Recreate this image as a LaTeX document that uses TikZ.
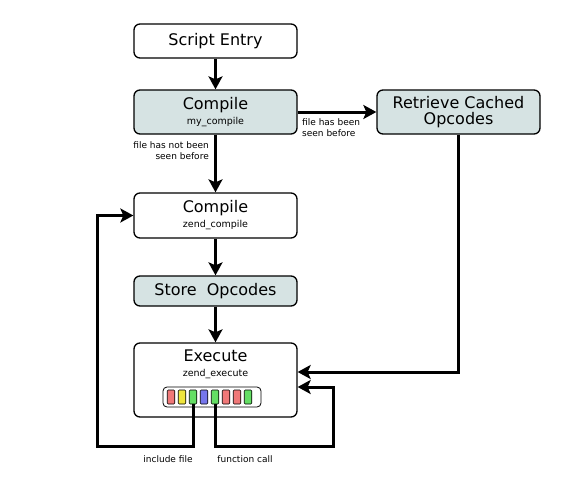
\documentclass[tikz,border=0pt]{standalone}
\usepackage{fontspec}
\setmainfont{DejaVu Sans}
\usetikzlibrary{arrows.meta}
\definecolor{boxfill}{RGB}{214,227,227}
\definecolor{cellred}{RGB}{240,120,120}
\definecolor{cellyellow}{RGB}{238,228,60}
\definecolor{cellgreen}{RGB}{100,222,100}
\definecolor{cellblue}{RGB}{118,118,236}
\newcommand{\subname}[1]{\\[-3pt]{\fontsize{9.5}{11}\selectfont #1}}
\tikzset{
	stagebox/.style={draw, line width=1.3pt, rounded corners=6pt, minimum width=163pt, align=center, inner sep=0pt, font=\fontsize{16}{18}\selectfont},
	cachedbox/.style={stagebox, fill=boxfill},
	flow/.style={line width=3pt, -{Stealth[length=13pt,width=14pt,inset=3pt]}},
	note/.style={font=\fontsize{9}{11}\selectfont, inner sep=0pt},
	opcell/.style={draw, line width=0.6pt, rounded corners=1pt, minimum width=7.5pt, minimum height=14pt, inner sep=0pt}
}

\begin{document}
\begin{tikzpicture}[x=1pt,y=-1pt]
	\useasboundingbox (0,0) rectangle (579,498);
	\node[stagebox, minimum height=34pt] (entry) at (215.5,41){Script Entry};
	\node[cachedbox, minimum height=44pt] (mycomp) at (215.5,112){Compile\subname{my\_compile}};
	\node[cachedbox, minimum height=44pt] (cached) at (458.5,112){Retrieve Cached\\[-2pt]Opcodes};
	\node[stagebox, minimum height=45pt] (zendcomp) at (215.5,215.5){Compile\subname{zend\_compile}};
	\node[cachedbox, minimum height=30pt] (store) at (215.5,291){Store\ \ Opcodes};
	\node[stagebox, minimum height=74pt] (exec) at (215.5,380){};
	\node[stagebox, draw=none, minimum width=0pt, anchor=north] (exectxt) at (215.5,349){Execute\subname{zend\_execute}};
	% opcode strip
	\node[draw, line width=0.8pt, rounded corners=4pt, minimum width=98pt, minimum height=20pt, inner sep=0pt] (strip) at (212,397){};
	\foreach \col [count=\i] in {cellred,cellyellow,cellgreen,cellblue,cellgreen,cellred,cellred,cellgreen}
		\node[opcell, fill=\col] (c\i) at ({160+11*\i},397){};
	\coordinate (inclturn) at (97,446);
	\coordinate (callturn) at (333,446);
	\draw[flow] (entry) -- (mycomp);
	\draw[flow] (mycomp) -- (cached);
	\draw[flow] (mycomp) -- (zendcomp);
	\draw[flow] (zendcomp) -- (store);
	\draw[flow] (store) -- (exec);
	\draw[flow] (cached.south) |- ([yshift=8pt]exec.east);
	\draw[flow] (c3.south) |- (inclturn) |- (zendcomp.west);
	\draw[flow] (c5.south) |- (callturn) |- ([yshift=-7pt]exec.east);
	% labels
	\node[note, anchor=north east, align=right] (notseen) at (209,141){file has not been\\seen before};
	\node[note, anchor=north west, align=left] (seen) at (302,118){file has been\\seen before};
	\node[note] (incl) at (168,459){include file};
	\node[note] (call) at (245,459){function call};
\end{tikzpicture}
\end{document}
